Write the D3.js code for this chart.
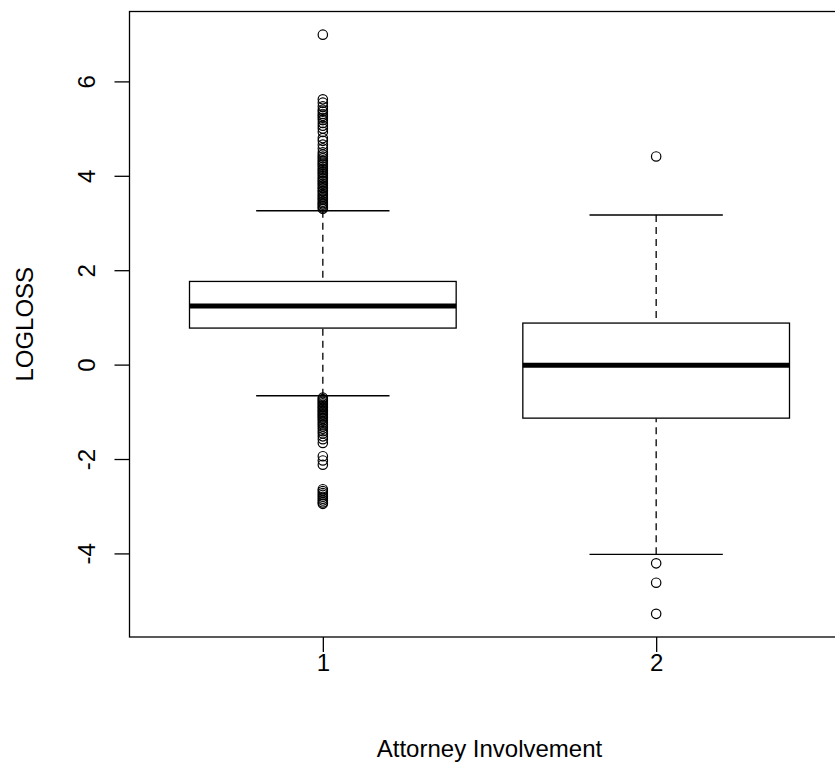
<!DOCTYPE html>
<html>
<head>
<meta charset="utf-8">
<script src="https://cdn.jsdelivr.net/npm/d3@7"></script>
<style>
  html, body { margin: 0; padding: 0; background: #fff; }
  svg { display: block; }
  text { font-family: "Liberation Sans", Arial, sans-serif; fill: #000; }
</style>
</head>
<body>
<svg id="chart" width="835" height="763"></svg>
<script>
// Groups on the x axis
const categories = ["1", "2"];

// Five-number summaries per group: lower whisker, Q1, median, Q3, upper whisker
const whiskerLow  = [-0.66, -4.02];
const quartile1   = [0.774, -1.134];
const medians     = [1.240, -0.011];
const quartile3   = [1.762, 0.880];
const whiskerHigh = [3.26, 3.17];

// Points beyond the whiskers, per group
const outliers1 = [
  6.99, 5.62, 5.55, 5.47, 5.40, 5.36, 5.31, 5.27, 5.23, 5.18, 5.12, 5.06, 5.00,
  4.93, 4.80, 4.74, 4.66, 4.58, 4.50, 4.45, 4.41, 4.37, 4.33, 4.30, 4.26, 4.23,
  4.19, 4.15, 4.12, 4.08, 4.05, 4.01, 3.97, 3.94, 3.90, 3.87, 3.83, 3.80, 3.76,
  3.73, 3.69, 3.66, 3.62, 3.59, 3.55, 3.52, 3.49, 3.45, 3.42, 3.39, 3.36, 3.33, 3.30,
  -0.70, -0.73, -0.76, -0.79, -0.82, -0.85, -0.88, -0.91, -0.94, -0.97, -1.00,
  -1.03, -1.06, -1.09, -1.12, -1.15, -1.19, -1.23, -1.27, -1.31, -1.36, -1.41,
  -1.46, -1.52, -1.58, -1.66, -1.94, -2.03, -2.12, -2.64, -2.68, -2.72, -2.76,
  -2.80, -2.84, -2.88, -2.92, -2.95
];
const outliers2 = [4.41, -4.21, -4.62, -5.28];

// Axis ticks and labels
const yTicks = [-4, -2, 0, 2, 4, 6];
const xLabel = "Attorney Involvement";
const yLabel = "LOGLOSS";

const svg = d3.select("#chart");
const plot = { left: 129.5, right: 849.5, top: 11.5, bottom: 637 };

// Data extent padded by 4% on each side
const allValues = outliers1.concat(outliers2, whiskerLow, whiskerHigh);
const lo = d3.min(allValues), hi = d3.max(allValues);
const pad = (hi - lo) * 0.04;
const y = d3.scaleLinear().domain([lo - pad, hi + pad]).range([plot.bottom, plot.top]);

const xPad = categories.length * 0.04;
const x = d3.scaleLinear()
  .domain([0.5 - xPad, categories.length + 0.5 + xPad])
  .range([plot.left, plot.right]);

const boxHalf = x(1.4) - x(1);
const capHalf = x(1.2) - x(1);

const groups = categories.map((c, i) => ({
  pos: i + 1,
  lo: whiskerLow[i], q1: quartile1[i], med: medians[i], q3: quartile3[i], hi: whiskerHigh[i],
  out: i === 0 ? outliers1 : outliers2
}));

const g = svg.append("g");

// Whiskers (dashed), drawn from the whisker end toward the box
g.selectAll("line.whisker-hi").data(groups).join("line")
  .attr("x1", d => x(d.pos)).attr("x2", d => x(d.pos))
  .attr("y1", d => y(d.hi)).attr("y2", d => y(d.q3))
  .attr("stroke", "#000").attr("stroke-width", 1.3).attr("stroke-dasharray", "7,5");
g.selectAll("line.whisker-lo").data(groups).join("line")
  .attr("x1", d => x(d.pos)).attr("x2", d => x(d.pos))
  .attr("y1", d => y(d.lo)).attr("y2", d => y(d.q1))
  .attr("stroke", "#000").attr("stroke-width", 1.3).attr("stroke-dasharray", "7,5");

// Whisker caps
["hi", "lo"].forEach(k => {
  g.selectAll("line.cap-" + k).data(groups).join("line")
    .attr("x1", d => x(d.pos) - capHalf).attr("x2", d => x(d.pos) + capHalf)
    .attr("y1", d => y(d[k])).attr("y2", d => y(d[k]))
    .attr("stroke", "#000").attr("stroke-width", 1.3);
});

// Boxes
g.selectAll("rect.box").data(groups).join("rect")
  .attr("x", d => x(d.pos) - boxHalf).attr("width", 2 * boxHalf)
  .attr("y", d => y(d.q3)).attr("height", d => y(d.q1) - y(d.q3))
  .attr("fill", "#fff").attr("stroke", "#000").attr("stroke-width", 1.3);

// Medians
g.selectAll("line.median").data(groups).join("line")
  .attr("x1", d => x(d.pos) - boxHalf).attr("x2", d => x(d.pos) + boxHalf)
  .attr("y1", d => y(d.med)).attr("y2", d => y(d.med))
  .attr("stroke", "#000").attr("stroke-width", 5);

// Outlying points as open circles
groups.forEach(d => {
  g.selectAll(null).data(d.out).join("circle")
    .attr("cx", x(d.pos)).attr("cy", v => y(v)).attr("r", 4.7)
    .attr("fill", "none").attr("stroke", "#000").attr("stroke-width", 1.2);
});

// Plot frame
svg.append("rect")
  .attr("x", plot.left).attr("y", plot.top)
  .attr("width", plot.right - plot.left).attr("height", plot.bottom - plot.top)
  .attr("fill", "none").attr("stroke", "#000").attr("stroke-width", 1.3);

// Left axis with labels parallel to the axis (plain hyphen for negatives)
const yAxis = svg.append("g").attr("transform", `translate(${plot.left},0)`)
  .call(d3.axisLeft(y).tickValues(yTicks).tickSize(15).tickPadding(0)
    .tickFormat(d => String(d)));
yAxis.select(".domain").remove();
yAxis.selectAll(".tick line").attr("stroke", "#000").attr("stroke-width", 1.3);
yAxis.selectAll(".tick text")
  .attr("transform", "rotate(-90)")
  .attr("x", 0).attr("y", -34.5).attr("dy", 0)
  .attr("text-anchor", "middle")
  .style("font-size", "24px");

// Bottom axis
const xAxis = svg.append("g").attr("transform", `translate(0,${plot.bottom})`)
  .call(d3.axisBottom(x).tickValues(categories.map((c, i) => i + 1)).tickSize(15)
    .tickFormat((d, i) => categories[i]));
xAxis.select(".domain").remove();
xAxis.selectAll(".tick line").attr("stroke", "#000").attr("stroke-width", 1.3);
xAxis.selectAll(".tick text")
  .attr("y", 34).attr("dy", 0)
  .attr("text-anchor", "middle")
  .style("font-size", "24px");

// Axis titles
svg.append("text")
  .attr("x", (plot.left + plot.right) / 2).attr("y", 757)
  .attr("text-anchor", "middle").style("font-size", "24px")
  .text(xLabel);
svg.append("text")
  .attr("transform", `translate(33,${(plot.top + plot.bottom) / 2}) rotate(-90)`)
  .attr("text-anchor", "middle").style("font-size", "24px")
  .text(yLabel);
</script>
</body>
</html>
